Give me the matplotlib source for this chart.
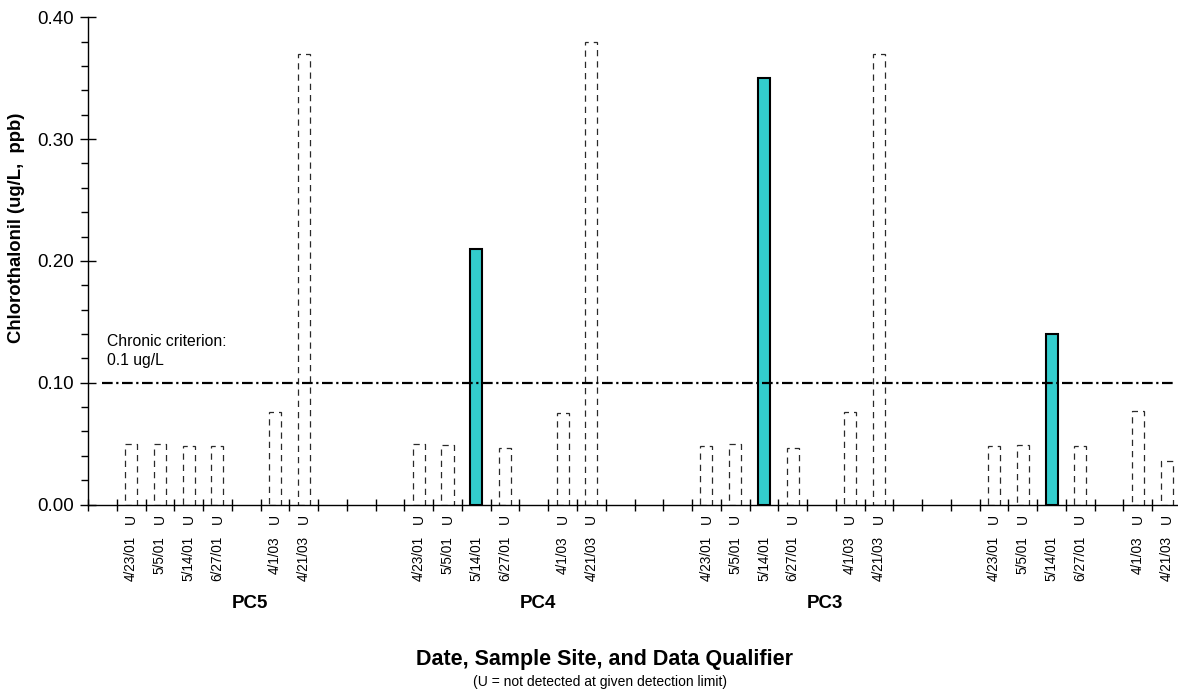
import matplotlib
matplotlib.use("Agg")
import matplotlib.pyplot as plt
from matplotlib.ticker import MultipleLocator, FixedLocator, NullFormatter
import matplotlib.transforms as mtransforms

plt.rcParams['font.family'] = ['Liberation Sans', 'DejaVu Sans']

# --- data -------------------------------------------------------------
site_names = ['PC5', 'PC4', 'PC3', '']
sample_dates = ['4/23/01', '5/5/01', '5/14/01', '6/27/01', '4/1/03', '4/21/03']

pc5_values = [0.050, 0.050, 0.048, 0.048, 0.076, 0.370]
pc4_values = [0.050, 0.049, 0.210, 0.046, 0.075, 0.380]
pc3_values = [0.048, 0.050, 0.350, 0.046, 0.076, 0.370]
site4_values = [0.048, 0.049, 0.140, 0.048, 0.077, 0.036]

pc5_qual = ['U', 'U', 'U', 'U', 'U', 'U']
pc4_qual = ['U', 'U', '', 'U', 'U', 'U']
pc3_qual = ['U', 'U', '', 'U', 'U', 'U']
site4_qual = ['U', 'U', '', 'U', 'U', 'U']

criterion = 0.1
criterion_label = 'Chronic criterion:\n0.1 ug/L'

# --- layout -----------------------------------------------------------
group_values = [pc5_values, pc4_values, pc3_values, site4_values]
group_quals = [pc5_qual, pc4_qual, pc3_qual, site4_qual]
slot_in_group = [1, 2, 3, 4, 6, 7]   # category slots used inside each block of 10
group_span = 10
n_slots = 38

W, H = 1178, 690
fig = plt.figure(figsize=(W / 100, H / 100), dpi=100)
ax_left, ax_right = 88, 1181
ax_top, ax_bottom = 17.3, 504.5
ax = fig.add_axes([ax_left / W, 1 - ax_bottom / H,
                   (ax_right - ax_left) / W, (ax_bottom - ax_top) / H])

bar_w = 0.42
teal = '#33CCCC'
label_tf = mtransforms.blended_transform_factory(ax.transData, fig.transFigure)

for g, (vals, quals) in enumerate(zip(group_values, group_quals)):
    for slot, v, q, d in zip(slot_in_group, vals, quals, sample_dates):
        x = g * group_span + slot
        if q == 'U':
            ax.bar(x, v, width=bar_w, facecolor='none', edgecolor='#2a2a2a',
                   linewidth=0.9, linestyle=(0, (5, 4)), zorder=2)
            ax.text(x, 1 - 519 / H, 'U', rotation=90, ha='center', va='center',
                    fontsize=10, transform=label_tf)
        else:
            ax.bar(x, v, width=bar_w, facecolor=teal, edgecolor='black',
                   linewidth=1.5, zorder=3)
        ax.text(x, 1 - 536 / H, d, rotation=90, ha='center', va='top',
                fontsize=9.8, transform=label_tf)
    if site_names[g]:
        ax.text(g * group_span + 5.13, 1 - 604 / H, site_names[g], ha='center',
                va='center', fontsize=13.5, fontweight='bold', transform=label_tf)

# criterion line
ax.plot([0.0, 37.3], [criterion, criterion], color='black', linewidth=1.6,
        linestyle=(0, (4.8, 1.6, 1.0, 1.6)), zorder=4, solid_capstyle='butt')
ax.text(0.15, 0.126, criterion_label, ha='left', va='center', fontsize=11.3,
        linespacing=1.4)

# axes styling
ax.set_xlim(-0.5, n_slots - 0.5)
ax.set_ylim(0, 0.40)
for s in ['top', 'right']:
    ax.spines[s].set_visible(False)
ax.spines['left'].set_linewidth(1.0)
ax.spines['bottom'].set_linewidth(1.0)

ax.xaxis.set_major_locator(FixedLocator([i - 0.5 for i in range(n_slots + 1)]))
ax.xaxis.set_major_formatter(NullFormatter())
ax.tick_params(axis='x', direction='inout', length=9, width=1.0)

ax.yaxis.set_major_locator(MultipleLocator(0.10))
ax.yaxis.set_minor_locator(MultipleLocator(0.02))
ax.yaxis.set_major_formatter(plt.FuncFormatter(lambda v, p: f'{v:.2f}'))
ax.tick_params(axis='y', which='major', direction='inout', length=12, width=1.0,
               labelsize=13.5, pad=4)
ax.tick_params(axis='y', which='minor', direction='out', length=5, width=1.0)

fig.text(17 / W, 1 - 228 / H, 'Chlorothalonil (ug/L,  ppb)', rotation=90,
         ha='center', va='center', fontsize=13.3, fontweight='bold')
fig.text(605 / W, 1 - 659 / H, 'Date, Sample Site, and Data Qualifier',
         ha='center', va='center', fontsize=15.5, fontweight='bold')
fig.text(600 / W, 1 - 682 / H, '(U = not detected at given detection limit)',
         ha='center', va='center', fontsize=10)

fig.savefig('out.png', dpi=100)
